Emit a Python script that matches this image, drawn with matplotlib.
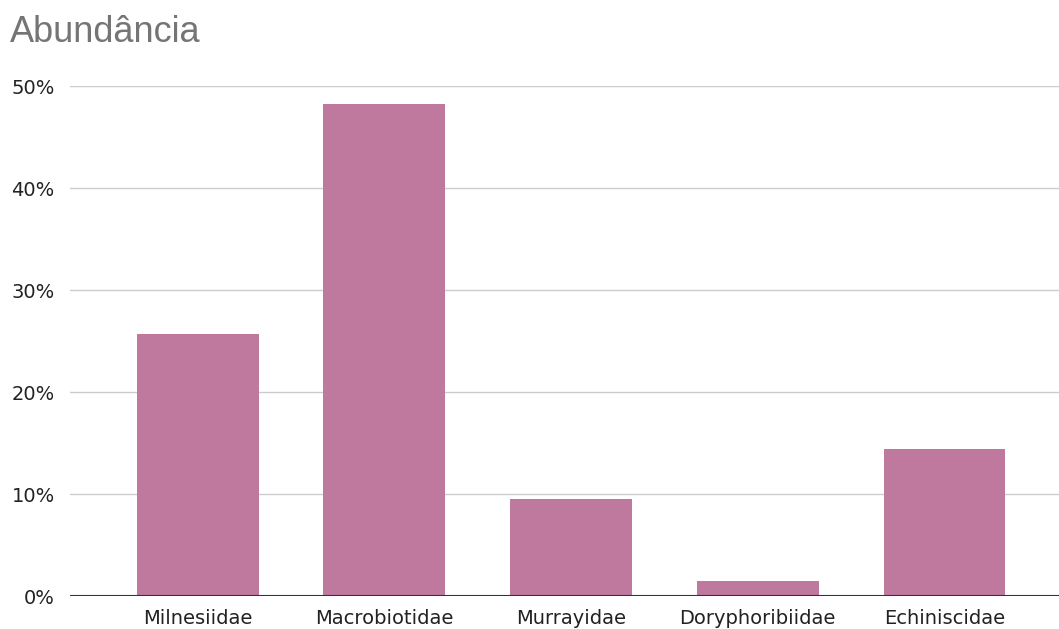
import matplotlib.pyplot as plt
from matplotlib.ticker import PercentFormatter

families = ['Milnesiidae', 'Macrobiotidae', 'Murrayidae', 'Doryphoribiidae', 'Echiniscidae']
abundance = [0.257, 0.482, 0.095, 0.015, 0.144]

bar_color = '#c0799e'
text_color = '#222222'

plt.rcParams['font.family'] = ['DejaVu Sans']

fig = plt.figure(figsize=(10.59, 6.29), dpi=100)
ax = fig.add_axes([70 / 1059, 33 / 629, 989 / 1059, 510 / 629])

x = list(range(len(families)))
ax.bar(x, abundance, width=0.653, color=bar_color, zorder=3)

ax.set_xlim(-0.683, 4.613)
ax.set_ylim(0, 0.5)
ax.set_yticks([0, 0.1, 0.2, 0.3, 0.4, 0.5])
ax.yaxis.set_major_formatter(PercentFormatter(1.0, decimals=0))
ax.set_xticks(x)
ax.set_xticklabels(families)

# gridlines
ax.grid(axis='y', color='#cccccc', linewidth=1, zorder=0)
ax.axhline(0, color='#333333', linewidth=1.5, zorder=4)

for s in ax.spines.values():
    s.set_visible(False)
ax.tick_params(axis='both', length=0, labelsize=14, colors=text_color)
ax.tick_params(axis='x', pad=9)
ax.tick_params(axis='y', pad=11)

fig.text(10 / 1059, 1 - 42 / 629, 'Abundância', fontsize=26, color='#757575',
         ha='left', va='baseline', family='Liberation Sans')

fig.savefig('out.png', dpi=100)
